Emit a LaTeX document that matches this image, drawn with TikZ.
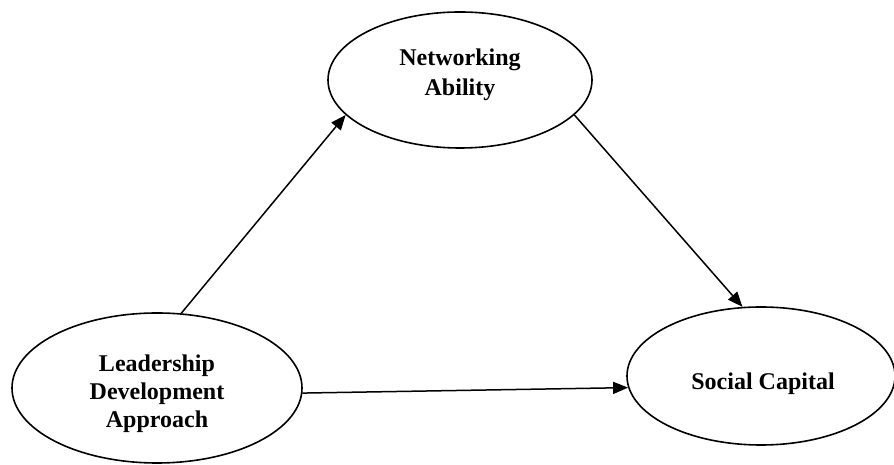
\documentclass[tikz,border=0pt]{standalone}
\usepackage{fontspec}
\setmainfont{Liberation Serif}
\usetikzlibrary{shapes.geometric,arrows.meta}
\begin{document}
\begin{tikzpicture}[x=1pt,y=1pt,
  oval/.style={draw, line width=1.6pt, ellipse, inner sep=0pt},
  txt/.style={align=center, inner sep=0pt, font=\fontsize{24}{29}\selectfont\bfseries},
  link/.style={draw, line width=1.5pt, -{Triangle[length=15pt,width=12pt]}}]
\useasboundingbox (0,0) rectangle (894,465);
\node[oval, minimum width=264pt, minimum height=136pt] (N) at (460,385) {};
\node[oval, minimum width=290pt, minimum height=150pt] (L) at (157,77) {};
\node[oval, minimum width=268pt, minimum height=138pt] (S) at (761,89) {};
\node[txt, font=\fontsize{24}{30}\selectfont\bfseries] (Nt) at (460,390) {Networking\\Ability};
\node[txt, font=\fontsize{24}{28}\selectfont\bfseries] (Lt) at (157,71) {Leadership\\Development\\Approach};
\node[txt] (St) at (763,81) {Social Capital};
\draw[link] (L.72) -- (N.197);
\draw[link] (N.-17) -- (S.105);
\draw[link] (L.-2) -- (S.185.5);
\end{tikzpicture}
\end{document}
